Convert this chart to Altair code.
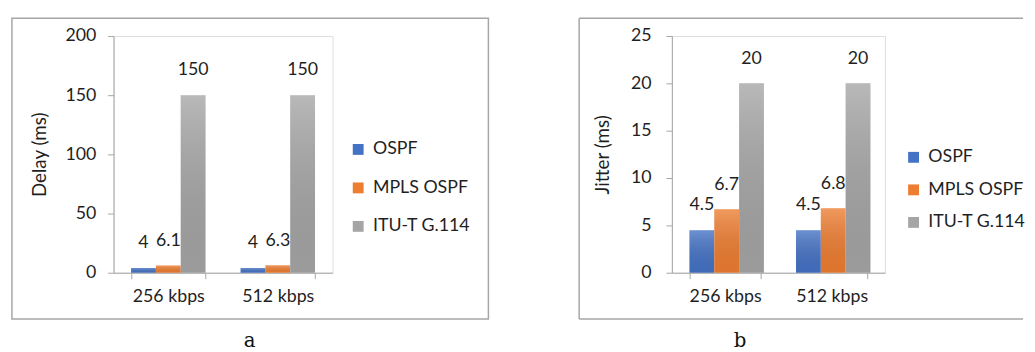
import altair as alt
import pandas as pd

# ---- data ----
categories = ["256 kbps", "512 kbps"]
series = ["OSPF", "MPLS OSPF", "ITU-T G.114"]
colors = ["#4472C4", "#ED7D31", "#A5A5A5"]

delay_ospf = [4, 4]
delay_mpls = [6.1, 6.3]
delay_itu = [150, 150]

jitter_ospf = [4.5, 4.5]
jitter_mpls = [6.7, 6.8]
jitter_itu = [20, 20]

delay_ticks = [0, 50, 100, 150, 200]
jitter_ticks = [0, 5, 10, 15, 20, 25]

axis_titles = ["Delay (ms)", "Jitter (ms)"]
panel_labels = ["a", "b"]

FONT = "Lato"
FS = 18
TEXT = "#1f1f1f"
LINE = "#a6a6a6"
FRAME = "#a6a6a6"


def make_df(values):
    rows = []
    for s, vals in zip(series, values):
        for c, v in zip(categories, vals):
            rows.append({"band": c, "series": s, "value": v, "label": f"{v:g}"})
    return pd.DataFrame(rows)


shade = alt.Gradient(
    gradient="linear",
    stops=[
        alt.GradientStop(color="rgba(255,255,255,0.22)", offset=0),
        alt.GradientStop(color="rgba(0,0,0,0.06)", offset=1),
    ],
    x1=0, x2=0, y1=0, y2=1,
)


def one():
    return pd.DataFrame({"k": [0]})


def panel(df, W, H, ymax, ticks, ytitle, title_x, pin, legend_x, legend_y,
          row_pad, caption, cap_x, cap_y, frame_left, frame_right, closed, ylab_pad):
    x = alt.X(
        "band:N", sort=categories,
        scale=alt.Scale(domain=categories, paddingInner=pin, paddingOuter=pin / 2),
        axis=alt.Axis(title=None, labelAngle=0, tickBand="extent", tickSize=6,
                      tickColor=LINE, domainColor=LINE, labelPadding=9,
                      labelFontSize=FS, labelColor=TEXT, labelFont=FONT),
    )
    xo = alt.XOffset("series:N",
                     scale=alt.Scale(domain=series, paddingInner=0, paddingOuter=0))
    y = alt.Y(
        "value:Q",
        scale=alt.Scale(domain=[0, ymax], nice=False),
        axis=alt.Axis(values=ticks, grid=False, title=ytitle, tickSize=6,
                      tickColor=LINE, domainColor=LINE, labelPadding=ylab_pad,
                      labelFontSize=FS, labelColor=TEXT, labelFont=FONT,
                      titleFontSize=19, titleFontWeight="normal", titleColor=TEXT,
                      titleFont=FONT, titleX=title_x, titleY=H / 2,
                      titleAngle=270, titleAlign="center", titleBaseline="middle"),
    )
    color = alt.Color(
        "series:N",
        scale=alt.Scale(domain=series, range=colors),
        legend=alt.Legend(title=None, orient="none", legendX=legend_x, legendY=legend_y,
                          symbolType="square", symbolSize=121, symbolStrokeWidth=0,
                          rowPadding=row_pad, labelFontSize=FS, labelFont=FONT,
                          labelColor=TEXT, labelOffset=6, padding=0),
    )
    base = alt.Chart(df)
    bars = base.mark_bar().encode(x=x, xOffset=xo, y=y, color=color)
    gloss = base.mark_bar(color=shade).encode(x=x, xOffset=xo, y=y)
    labels = base.mark_text(dy=-25, fontSize=FS, font=FONT, color=TEXT).encode(
        x=x, xOffset=xo, y=y, text="label:N")

    layers = [bars, gloss, labels]
    if closed:
        frame = alt.Chart(one()).mark_rect(fillOpacity=0, stroke=FRAME, strokeWidth=1.5).encode(
            x=alt.value(frame_left), x2=alt.value(frame_right),
            y=alt.value(-18), y2=alt.value(287))
        layers.append(frame)
    else:
        top = alt.Chart(one()).mark_rule(color=FRAME, strokeWidth=1.5).encode(
            x=alt.value(frame_left), x2=alt.value(frame_right), y=alt.value(-18))
        bottom = alt.Chart(one()).mark_rule(color=FRAME, strokeWidth=1.5).encode(
            x=alt.value(frame_left), x2=alt.value(frame_right), y=alt.value(287))
        left = alt.Chart(one()).mark_rule(color=FRAME, strokeWidth=1.5).encode(
            x=alt.value(frame_left), y=alt.value(-18), y2=alt.value(287))
        layers += [top, bottom, left]
    cap = alt.Chart(one()).mark_text(font="DejaVu Serif", fontSize=20, color="#111111",
                                     baseline="middle").encode(
        x=alt.value(cap_x), y=alt.value(cap_y), text=alt.value(caption))
    layers.append(cap)
    return alt.layer(*layers).properties(width=W, height=H)


delay_df = make_df([delay_ospf, delay_mpls, delay_itu])
jitter_df = make_df([jitter_ospf, jitter_mpls, jitter_itu])

left = panel(delay_df, 222, 240, 200, delay_ticks, axis_titles[0], -75, 0.32,
             239, 106, 21, panel_labels[0], 138, 309, -103, 380, True, 12)
right = panel(jitter_df, 216, 240, 25, jitter_ticks, axis_titles[1], -70, 0.33,
              236, 114, 15, panel_labels[1], 69, 309, -94, 356, False, 15)

chart = (
    alt.hconcat(left, right, spacing=344, bounds="flush")
    .resolve_scale(color="independent", x="independent", y="independent")
    .resolve_legend(color="independent")
    .properties(padding={"left": 2, "top": 6, "right": 0, "bottom": 0})
    .configure_view(stroke=None)
    .configure(font=FONT)
)

chart.save("out.html", embed_options={"renderer": "svg", "actions": False})
